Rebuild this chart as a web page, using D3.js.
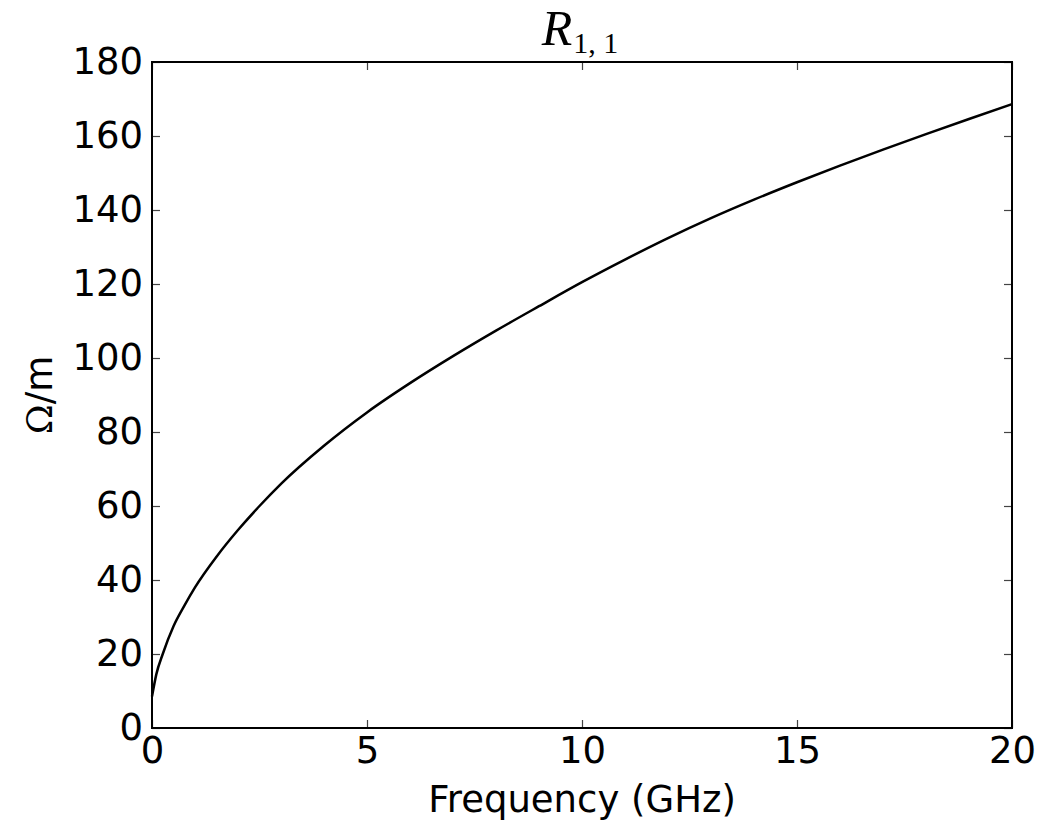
<!DOCTYPE html>
<html>
<head>
<meta charset="utf-8">
<script src="https://cdn.jsdelivr.net/npm/d3@7"></script>
<style>
  body { margin: 0; background: #fff; }
  text { fill: #000; }
</style>
</head>
<body>
<svg id="chart" width="1042" height="824"></svg>
<script>
// frequency in GHz
const freq = [0, 0.1, 0.25, 0.5, 0.75, 1, 1.5, 2, 2.5, 3, 4, 5, 6, 7, 8, 9, 10, 11, 12, 13, 14, 15, 16, 17, 18, 19, 20];
const resistance = [8.5, 14.5, 20, 27.5, 33, 38, 46.3, 53.5, 60, 66, 76.3, 85.3, 93.2, 100.5, 107.4, 114.0, 120.5, 126.6, 132.4, 137.8, 142.8, 147.5, 152, 156.3, 160.5, 164.6, 168.6];
const xTicks = [0, 5, 10, 15, 20];
const yTicks = [0, 20, 40, 60, 80, 100, 120, 140, 160, 180];

const margin = { left: 152, right: 30, top: 62, bottom: 96 };
const width = 1042, height = 824;

const svg = d3.select('#chart')
  .style('font-family', 'DejaVu Sans, sans-serif');

const x = d3.scaleLinear().domain([0, 20]).range([margin.left, width - margin.right]);
const y = d3.scaleLinear().domain([0, 180]).range([height - margin.bottom, margin.top]);

const fontSize = 37;

// inward ticks on all four sides, matplotlib classic style
svg.append('g')
  .attr('transform', `translate(0,${y(0)})`)
  .call(d3.axisBottom(x).tickValues(xTicks).tickSize(-8).tickFormat(d3.format('d')))
  .call(g => g.select('.domain').remove())
  .call(g => g.selectAll('line').attr('stroke', '#444').attr('stroke-width', 1.2))
  .call(g => g.selectAll('text').style('font-size', fontSize + 'px').style('font-family', 'DejaVu Sans').attr('dy', '0.71em').attr('y', 9));

svg.append('g')
  .attr('transform', `translate(0,${y(180)})`)
  .call(d3.axisTop(x).tickValues(xTicks).tickSize(-8).tickFormat(''))
  .call(g => g.select('.domain').remove())
  .call(g => g.selectAll('line').attr('stroke', '#444').attr('stroke-width', 1.2));

svg.append('g')
  .attr('transform', `translate(${x(0)},0)`)
  .call(d3.axisLeft(y).tickValues(yTicks).tickSize(-8).tickFormat(d3.format('d')))
  .call(g => g.select('.domain').remove())
  .call(g => g.selectAll('line').attr('stroke', '#444').attr('stroke-width', 1.2))
  .call(g => g.selectAll('text').style('font-size', fontSize + 'px').style('font-family', 'DejaVu Sans').attr('x', -9));

svg.append('g')
  .attr('transform', `translate(${x(20)},0)`)
  .call(d3.axisRight(y).tickValues(yTicks).tickSize(-8).tickFormat(''))
  .call(g => g.select('.domain').remove())
  .call(g => g.selectAll('line').attr('stroke', '#444').attr('stroke-width', 1.2));

// the curve
const line = d3.line()
  .x((d, i) => x(freq[i]))
  .y(d => y(d))
  .curve(d3.curveMonotoneX);

svg.append('path')
  .datum(resistance)
  .attr('d', line)
  .attr('fill', 'none')
  .attr('stroke', '#000')
  .attr('stroke-width', 2.5);

// frame
svg.append('rect')
  .attr('x', x(0)).attr('y', y(180))
  .attr('width', x(20) - x(0)).attr('height', y(0) - y(180))
  .attr('fill', 'none')
  .attr('stroke', '#000')
  .attr('stroke-width', 2);

// x label
svg.append('text')
  .attr('x', (x(0) + x(20)) / 2)
  .attr('y', 812)
  .attr('text-anchor', 'middle')
  .style('font-size', fontSize + 'px')
  .text('Frequency (GHz)');

// y label: serif omega + sans "/m"
const yl = svg.append('text')
  .attr('transform', `translate(52,${(y(0) + y(180)) / 2}) rotate(-90)`)
  .attr('text-anchor', 'middle')
  .style('font-size', fontSize + 'px');
yl.append('tspan').style('font-family', 'DejaVu Serif, serif').style('font-size', '36px').text('Ω');
yl.append('tspan').text('/m');

// title R_{1,1}
const title = svg.append('text')
  .attr('x', (x(0) + x(20)) / 2 - 2)
  .attr('y', 45)
  .attr('text-anchor', 'middle')
  .style('font-family', 'Liberation Serif, serif')
  .style('font-size', '50px');
title.append('tspan').style('font-style', 'italic').text('R');
title.append('tspan').style('font-size', '30px').attr('dx', 1).attr('dy', 8).text('1, 1');
</script>
</body>
</html>
